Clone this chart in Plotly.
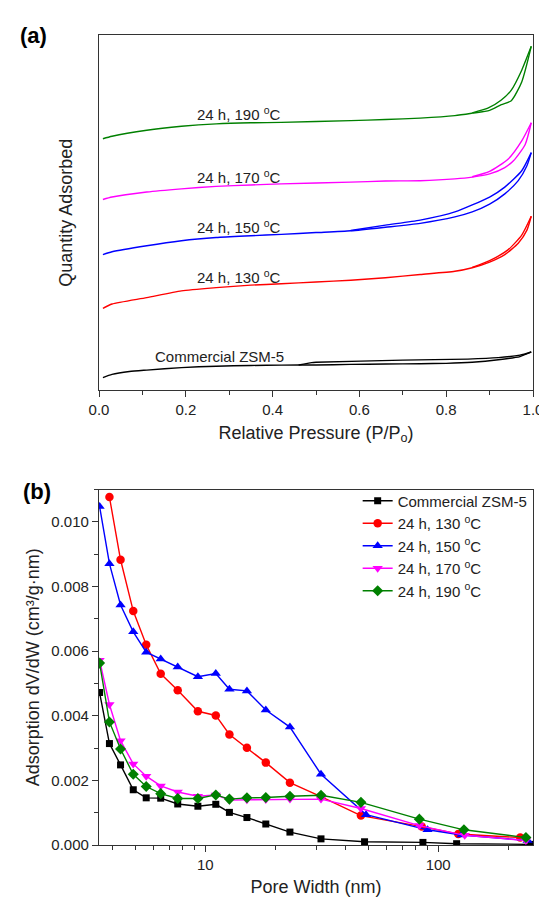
import plotly.graph_objects as go

# ---------------- Panel (a): N2 isotherms (relative units) ----------------
zsm_ads_x = [0.009, 0.03, 0.07, 0.11, 0.19, 0.27, 0.35, 0.42, 0.50, 0.58, 0.66, 0.74, 0.80, 0.86, 0.92, 0.97, 0.996]
zsm_ads_y = [3.6, 4.5, 5.3, 5.7, 6.4, 6.8, 7.0, 7.1, 7.15, 7.3, 7.4, 7.5, 7.6, 7.9, 8.6, 9.5, 10.8]
zsm_des_x = [0.996, 0.97, 0.92, 0.85, 0.70, 0.50, 0.49, 0.46]
zsm_des_y = [10.8, 9.9, 9.2, 8.8, 8.5, 7.9, 7.8, 7.12]

r130_ads_x = [0.009, 0.03, 0.11, 0.19, 0.27, 0.35, 0.42, 0.50, 0.58, 0.66, 0.74, 0.82, 0.86, 0.90, 0.935, 0.966, 0.986, 0.996]
r130_ads_y = [23.1, 24.3, 26.1, 28.0, 28.9, 29.6, 30.0, 30.5, 31.0, 31.7, 32.6, 33.5, 34.5, 36.1, 38.2, 41.4, 45.1, 49.0]
r130_des_x = [0.996, 0.974, 0.943, 0.90, 0.86]
r130_des_y = [49.0, 43.7, 39.6, 36.5, 34.6]

r150_ads_x = [0.009, 0.03, 0.11, 0.19, 0.27, 0.35, 0.42, 0.50, 0.58, 0.66, 0.74, 0.82, 0.86, 0.90, 0.935, 0.966, 0.986, 0.996]
r150_ads_y = [38.2, 39.0, 40.7, 42.1, 43.0, 43.5, 43.9, 44.4, 44.9, 45.9, 47.0, 48.8, 50.2, 52.4, 55.3, 59.0, 63.2, 66.9]
r150_des_x = [0.996, 0.974, 0.935, 0.90, 0.82, 0.74, 0.66, 0.58]
r150_des_y = [66.9, 61.8, 57.2, 54.4, 50.2, 47.9, 46.5, 45.0]

r170_ads_x = [0.009, 0.03, 0.11, 0.19, 0.27, 0.35, 0.42, 0.58, 0.66, 0.74, 0.82, 0.86, 0.90, 0.935, 0.955, 0.982, 0.996]
r170_ads_y = [53.7, 54.4, 55.8, 56.7, 57.4, 57.8, 58.1, 58.6, 58.9, 59.0, 59.5, 60.0, 60.9, 62.7, 64.6, 69.2, 75.3]
r170_des_x = [0.996, 0.974, 0.943, 0.90, 0.86]
r170_des_y = [75.3, 70.2, 65.1, 61.6, 60.1]

r190_ads_x = [0.009, 0.03, 0.11, 0.19, 0.27, 0.35, 0.42, 0.58, 0.66, 0.74, 0.82, 0.86, 0.90, 0.927, 0.95, 0.974, 0.996]
r190_ads_y = [70.8, 71.5, 73.2, 74.3, 75.0, 75.3, 75.4, 75.9, 76.2, 76.6, 77.3, 78.0, 78.8, 80.4, 81.5, 86.8, 96.8]
r190_des_x = [0.996, 0.974, 0.95, 0.927, 0.896, 0.86]
r190_des_y = [96.8, 90.1, 84.5, 81.7, 79.4, 78.1]

labels = ["Commercial ZSM-5", "24 h, 130 <sup>o</sup>C", "24 h, 150 <sup>o</sup>C",
          "24 h, 170 <sup>o</sup>C", "24 h, 190 <sup>o</sup>C"]
colors = ["#000000", "#FF0000", "#0000FF", "#FF00FF", "#008000"]
label_x = [0.277, 0.323, 0.323, 0.323, 0.323]
label_y = [9.5, 32.0, 46.0, 60.1, 77.8]

# ---------------- Panel (b): BJH pore size distribution ----------------
zsm_w = [3.52, 3.88, 4.33, 4.91, 5.58, 6.44, 7.62, 9.30, 11.1, 12.7, 15.1, 18.2, 23.1, 31.4, 48.3, 86, 120, 250]
zsm_v = [4.72, 3.14, 2.48, 1.71, 1.46, 1.45, 1.27, 1.20, 1.26, 1.01, 0.85, 0.65, 0.40, 0.19, 0.10, 0.08, 0.04, 0.02]

s130_w = [3.88, 4.33, 4.91, 5.58, 6.44, 7.62, 9.30, 11.1, 12.7, 15.1, 18.2, 23.1, 31.4, 46.6, 85, 122, 225]
s130_v = [10.77, 8.83, 7.24, 6.20, 5.30, 4.79, 4.14, 4.01, 3.42, 3.01, 2.55, 1.93, 1.50, 0.91, 0.57, 0.34, 0.23]

s150_w = [3.52, 3.88, 4.33, 4.91, 5.58, 6.44, 7.62, 9.30, 11.1, 12.7, 15.1, 18.2, 23.1, 31.4, 49.0, 90, 126, 242]
s150_v = [10.48, 8.71, 7.43, 6.60, 5.97, 5.76, 5.51, 5.21, 5.31, 4.82, 4.77, 4.18, 3.65, 2.19, 0.94, 0.47, 0.31, 0.14]

s170_w = [3.52, 3.88, 4.33, 4.91, 5.58, 6.44, 7.62, 9.30, 11.1, 12.7, 15.1, 18.2, 23.1, 31.4, 46.6, 83, 130, 238]
s170_v = [5.72, 4.35, 3.23, 2.51, 2.13, 1.83, 1.64, 1.51, 1.55, 1.39, 1.40, 1.41, 1.42, 1.42, 1.13, 0.60, 0.30, 0.14]

s190_w = [3.52, 3.88, 4.33, 4.91, 5.58, 6.44, 7.62, 9.30, 11.1, 12.7, 15.1, 18.2, 23.1, 31.4, 46.6, 83, 129, 238]
s190_v = [5.63, 3.81, 2.97, 2.19, 1.81, 1.59, 1.44, 1.44, 1.55, 1.42, 1.46, 1.47, 1.51, 1.54, 1.32, 0.80, 0.47, 0.23]

symbols = ["square", "circle", "triangle-up", "triangle-down", "diamond"]
msizes = [7, 8.5, 9, 9, 8.5]

iso = [(zsm_ads_x, zsm_ads_y, zsm_des_x, zsm_des_y),
       (r130_ads_x, r130_ads_y, r130_des_x, r130_des_y),
       (r150_ads_x, r150_ads_y, r150_des_x, r150_des_y),
       (r170_ads_x, r170_ads_y, r170_des_x, r170_des_y),
       (r190_ads_x, r190_ads_y, r190_des_x, r190_des_y)]
psd = [(zsm_w, zsm_v), (s130_w, s130_v), (s150_w, s150_v), (s170_w, s170_v), (s190_w, s190_v)]

fig = go.Figure()
for i, (ax, ay, dx, dy) in enumerate(iso):
    for bx, by in ((ax, ay), (dx, dy)):
        fig.add_trace(go.Scatter(x=bx, y=by, mode="lines",
                                 line=dict(color=colors[i], width=1.4, shape="spline", smoothing=0.6),
                                 xaxis="x", yaxis="y", showlegend=False, hoverinfo="skip"))
for i, (w, v) in enumerate(psd):
    fig.add_trace(go.Scatter(x=w, y=[val / 1000 for val in v], mode="lines+markers", name=labels[i],
                             line=dict(color=colors[i], width=1.4),
                             marker=dict(symbol=symbols[i], size=msizes[i], color=colors[i]),
                             xaxis="x2", yaxis="y2"))

FONT = "Liberation Sans, Arial, sans-serif"
axis_common = dict(showline=True, linecolor="#333333", linewidth=1.3, mirror=True, showgrid=False,
                   zeroline=False, tickfont=dict(size=15, color="#222222", family=FONT))

annotations = []
for i in range(5):
    annotations.append(dict(x=label_x[i], y=label_y[i], xref="x", yref="y", text=labels[i], showarrow=False,
                            font=dict(size=15, color="#222222", family=FONT), xanchor="center", yanchor="middle"))
annotations.append(dict(x=-0.187, y=1.0, xref="paper", yref="paper", text="<b>(a)</b>", showarrow=False,
                        font=dict(size=22, color="#000000", family=FONT), xanchor="left", yanchor="middle"))
annotations.append(dict(x=-0.18, y=0.437, xref="paper", yref="paper", text="<b>(b)</b>", showarrow=False,
                        font=dict(size=22, color="#000000", family=FONT), xanchor="left", yanchor="middle"))

fig.update_layout(
    width=547, height=898, plot_bgcolor="white", paper_bgcolor="white",
    margin=dict(l=91, r=12, t=27, b=55),
    font=dict(family=FONT, color="#222222"),
    xaxis=dict(**axis_common, domain=[0, 1], anchor="y", range=[0, 1.0], dtick=0.2, tickformat=".1f",
               ticks="outside", ticklen=6, tickwidth=1.2, tickcolor="#333333",
               minor=dict(dtick=0.1, ticks="outside", ticklen=3.5, tickwidth=1.2, tickcolor="#333333"),
               title=dict(text="Relative Pressure (P/P<sub>o</sub>)", font=dict(size=18, family=FONT), standoff=8)),
    yaxis=dict(**axis_common, domain=[0.5613, 1.0], anchor="x", range=[0, 100], showticklabels=False, ticks="",
               title=dict(text="Quantity Adsorbed", font=dict(size=18, family=FONT), standoff=20)),
    xaxis2=dict(**axis_common, domain=[0, 1], anchor="y2", type="log", range=[0.544, 2.407],
                tickvals=[10, 100], ticktext=["10", "100"],
                ticks="outside", ticklen=6, tickwidth=1.2, tickcolor="#333333",
                minor=dict(tickvals=[4, 5, 6, 7, 8, 9, 20, 30, 40, 50, 60, 70, 80, 90, 200],
                           ticks="outside", ticklen=3.5, tickwidth=1.2, tickcolor="#333333"),
                title=dict(text="Pore Width (nm)", font=dict(size=18, family=FONT), standoff=8)),
    yaxis2=dict(**axis_common, domain=[0, 0.4387], anchor="x2", range=[0, 0.011], dtick=0.002, tickformat=".3f",
                ticks="outside", ticklen=6, tickwidth=1.2, tickcolor="#333333",
                minor=dict(dtick=0.001, ticks="outside", ticklen=3.5, tickwidth=1.2, tickcolor="#333333"),
                title=dict(text="Adsorption dV/dW (cm³/g·nm)", font=dict(size=18, family=FONT), standoff=6)),
    legend=dict(x=0.596, y=0.445, xanchor="left", yanchor="top", bgcolor="rgba(0,0,0,0)",
                font=dict(size=15, color="#222222", family=FONT), tracegroupgap=0, itemwidth=30),
    annotations=annotations,
)

fig.write_html("out.html")
